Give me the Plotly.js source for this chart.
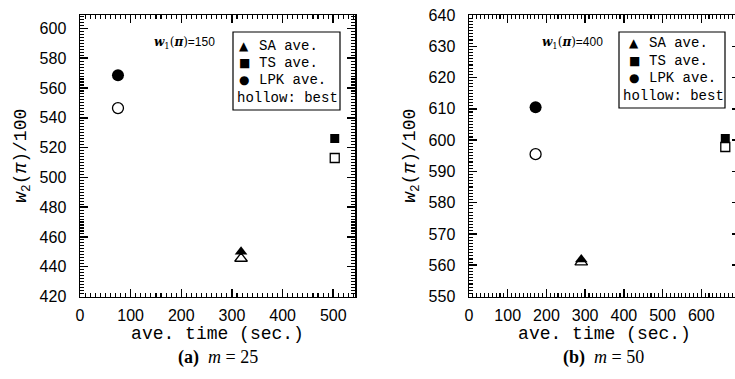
<!DOCTYPE html>
<html>
<head>
<meta charset="utf-8">
<script src="https://cdn.plot.ly/plotly-3.0.1.min.js"></script>
<style>
html,body{margin:0;padding:0;overflow:hidden;background:#fff;width:735px;height:379px;}
#chart{width:745px;height:379px;}
</style>
</head>
<body>
<div id="chart"></div>
<script>
// ---- data ----
const methods = ['SA', 'TS', 'LPK'];
const symbolsAve = ['triangle-up', 'square', 'circle'];
const symbolsBest = ['triangle-up-open', 'square-open', 'circle-open'];

// panel (a): m = 25, w1(pi) = 150
const timeA = [318, 503, 75];
const aveA  = [450, 526, 568.5];
const bestA = [445.5, 513, 546.5];

// panel (b): m = 50, w1(pi) = 400
const timeB = [290, 662, 172];
const aveB  = [561.8, 600.5, 610.5];
const bestB = [561, 597.8, 595.5];

// ---- layout helpers ----
const W = 745, H = 379;
const px = v => v / W;
const py = v => 1 - v / H;

const aveSizes = [11, 9, 12];
const bestSizes = [11, 9, 11];

const traces = [];
function addPanel(times, ave, best, xa, ya) {
  methods.forEach((m, i) => {
    traces.push({
      type: 'scatter', mode: 'markers', name: m + ' best',
      x: [times[i]], y: [best[i]], xaxis: xa, yaxis: ya, showlegend: false,
      marker: {symbol: symbolsBest[i], size: bestSizes[i], color: 'black', line: {width: 1.3, color: 'black'}}
    });
    traces.push({
      type: 'scatter', mode: 'markers', name: m + ' ave.',
      x: [times[i]], y: [ave[i]], xaxis: xa, yaxis: ya, showlegend: false,
      marker: {symbol: symbolsAve[i], size: aveSizes[i], color: 'black'}
    });
  });
}
addPanel(timeA, aveA, bestA, 'x', 'y');
addPanel(timeB, aveB, bestB, 'x2', 'y2');

const tickFont = {family: 'Liberation Sans, Arial, sans-serif', size: 16, color: 'black'};
const titleFont = {family: 'Liberation Mono, Courier New, monospace', size: 18, color: 'black'};
function ax(domain, range, dtick, mdtick, standoff, title, titleStandoff, anchor) {
  return {
    domain: domain, range: range, anchor: anchor,
    showline: true, linecolor: 'black', linewidth: 1.5, mirror: 'ticks',
    ticks: 'inside', ticklen: 8, tickwidth: 1.5, tickcolor: 'black',
    dtick: dtick, tick0: 0,
    showgrid: false, zeroline: false, tickfont: tickFont, ticklabelstandoff: standoff,
    minor: {ticks: 'inside', ticklen: 4, tickwidth: 1.1, tickcolor: 'black', dtick: mdtick},
    title: {text: title, font: titleFont, standoff: titleStandoff}
  };
}
const yTitle = '<i>w</i><sub>2</sub>(<i>π</i>)/100';
const xTitle = 'ave. time (sec.)';
const yDom = [py(296.5), py(15)];

const layout = {
  width: W, height: H,
  margin: {l: 0, r: 0, t: 0, b: 0},
  showlegend: false,
  xaxis: ax([px(80), px(355)], [0, 543], 100, 10, 4, xTitle, 2, 'y'),
  yaxis: ax(yDom, [420, 609], 20, 2, 9, yTitle, 8, 'x'),
  xaxis2: ax([px(469), px(740)], [0, 700], 100, 10, 4, xTitle, 2, 'y2'),
  yaxis2: ax(yDom, [550, 640], 10, 1, 9, yTitle, 8, 'x2'),
  shapes: [
    {type: 'rect', xref: 'paper', yref: 'paper', x0: px(233), x1: px(340), y0: py(110), y1: py(32),
     line: {color: 'black', width: 1.2}, fillcolor: 'white'},
    {type: 'rect', xref: 'paper', yref: 'paper', x0: px(619), x1: px(725), y0: py(108), y1: py(32),
     line: {color: 'black', width: 1.2}, fillcolor: 'white'}
  ],
  annotations: []
};

const legFont = {family: 'Liberation Mono, Courier New, monospace', size: 14, color: 'black'};
const symFont = {family: 'DejaVu Sans, sans-serif', size: 12, color: 'black'};
const glyphs = ['▲', '■', '●'];
function legend(symX, textX, rows, hollowX) {
  methods.forEach((m, i) => {
    layout.annotations.push({xref: 'paper', yref: 'paper', x: px(symX), y: py(rows[i]),
      xanchor: 'center', yanchor: 'middle', showarrow: false, text: glyphs[i], font: symFont});
    layout.annotations.push({xref: 'paper', yref: 'paper', x: px(textX), y: py(rows[i]),
      xanchor: 'left', yanchor: 'middle', showarrow: false, text: m + ' ave.', font: legFont});
  });
  layout.annotations.push({xref: 'paper', yref: 'paper', x: px(hollowX), y: py(rows[3]),
    xanchor: 'left', yanchor: 'middle', showarrow: false, text: 'hollow: best', font: legFont});
}
legend(244, 257, [46, 63, 80, 98], 235);
legend(634, 647, [43, 61, 78, 96], 621);

function w1(val) {
  return '<b><i>w</i></b><sub>1</sub>(<b><i>π</i></b>)<span style="font-family:Liberation Sans">=' + val + '</span>';
}
layout.annotations.push({xref: 'paper', yref: 'paper', x: px(152), y: py(43), xanchor: 'left', yanchor: 'middle',
  showarrow: false, text: w1(150), font: {family: 'DejaVu Serif, serif', size: 12, color: 'black'}});
layout.annotations.push({xref: 'paper', yref: 'paper', x: px(540), y: py(43), xanchor: 'left', yanchor: 'middle',
  showarrow: false, text: w1(400), font: {family: 'DejaVu Serif, serif', size: 12, color: 'black'}});

const capFont = {family: 'Liberation Serif, Times New Roman, serif', size: 18, color: 'black'};
layout.annotations.push({xref: 'paper', yref: 'paper', x: px(218), y: py(357), xanchor: 'center', yanchor: 'middle',
  showarrow: false, text: '<b>(a)</b>  <i>m</i> = 25', font: capFont});
layout.annotations.push({xref: 'paper', yref: 'paper', x: px(603), y: py(357), xanchor: 'center', yanchor: 'middle',
  showarrow: false, text: '<b>(b)</b>  <i>m</i> = 50', font: capFont});

Plotly.newPlot('chart', traces, layout, {staticPlot: true, displayModeBar: false});
</script>
</body>
</html>
